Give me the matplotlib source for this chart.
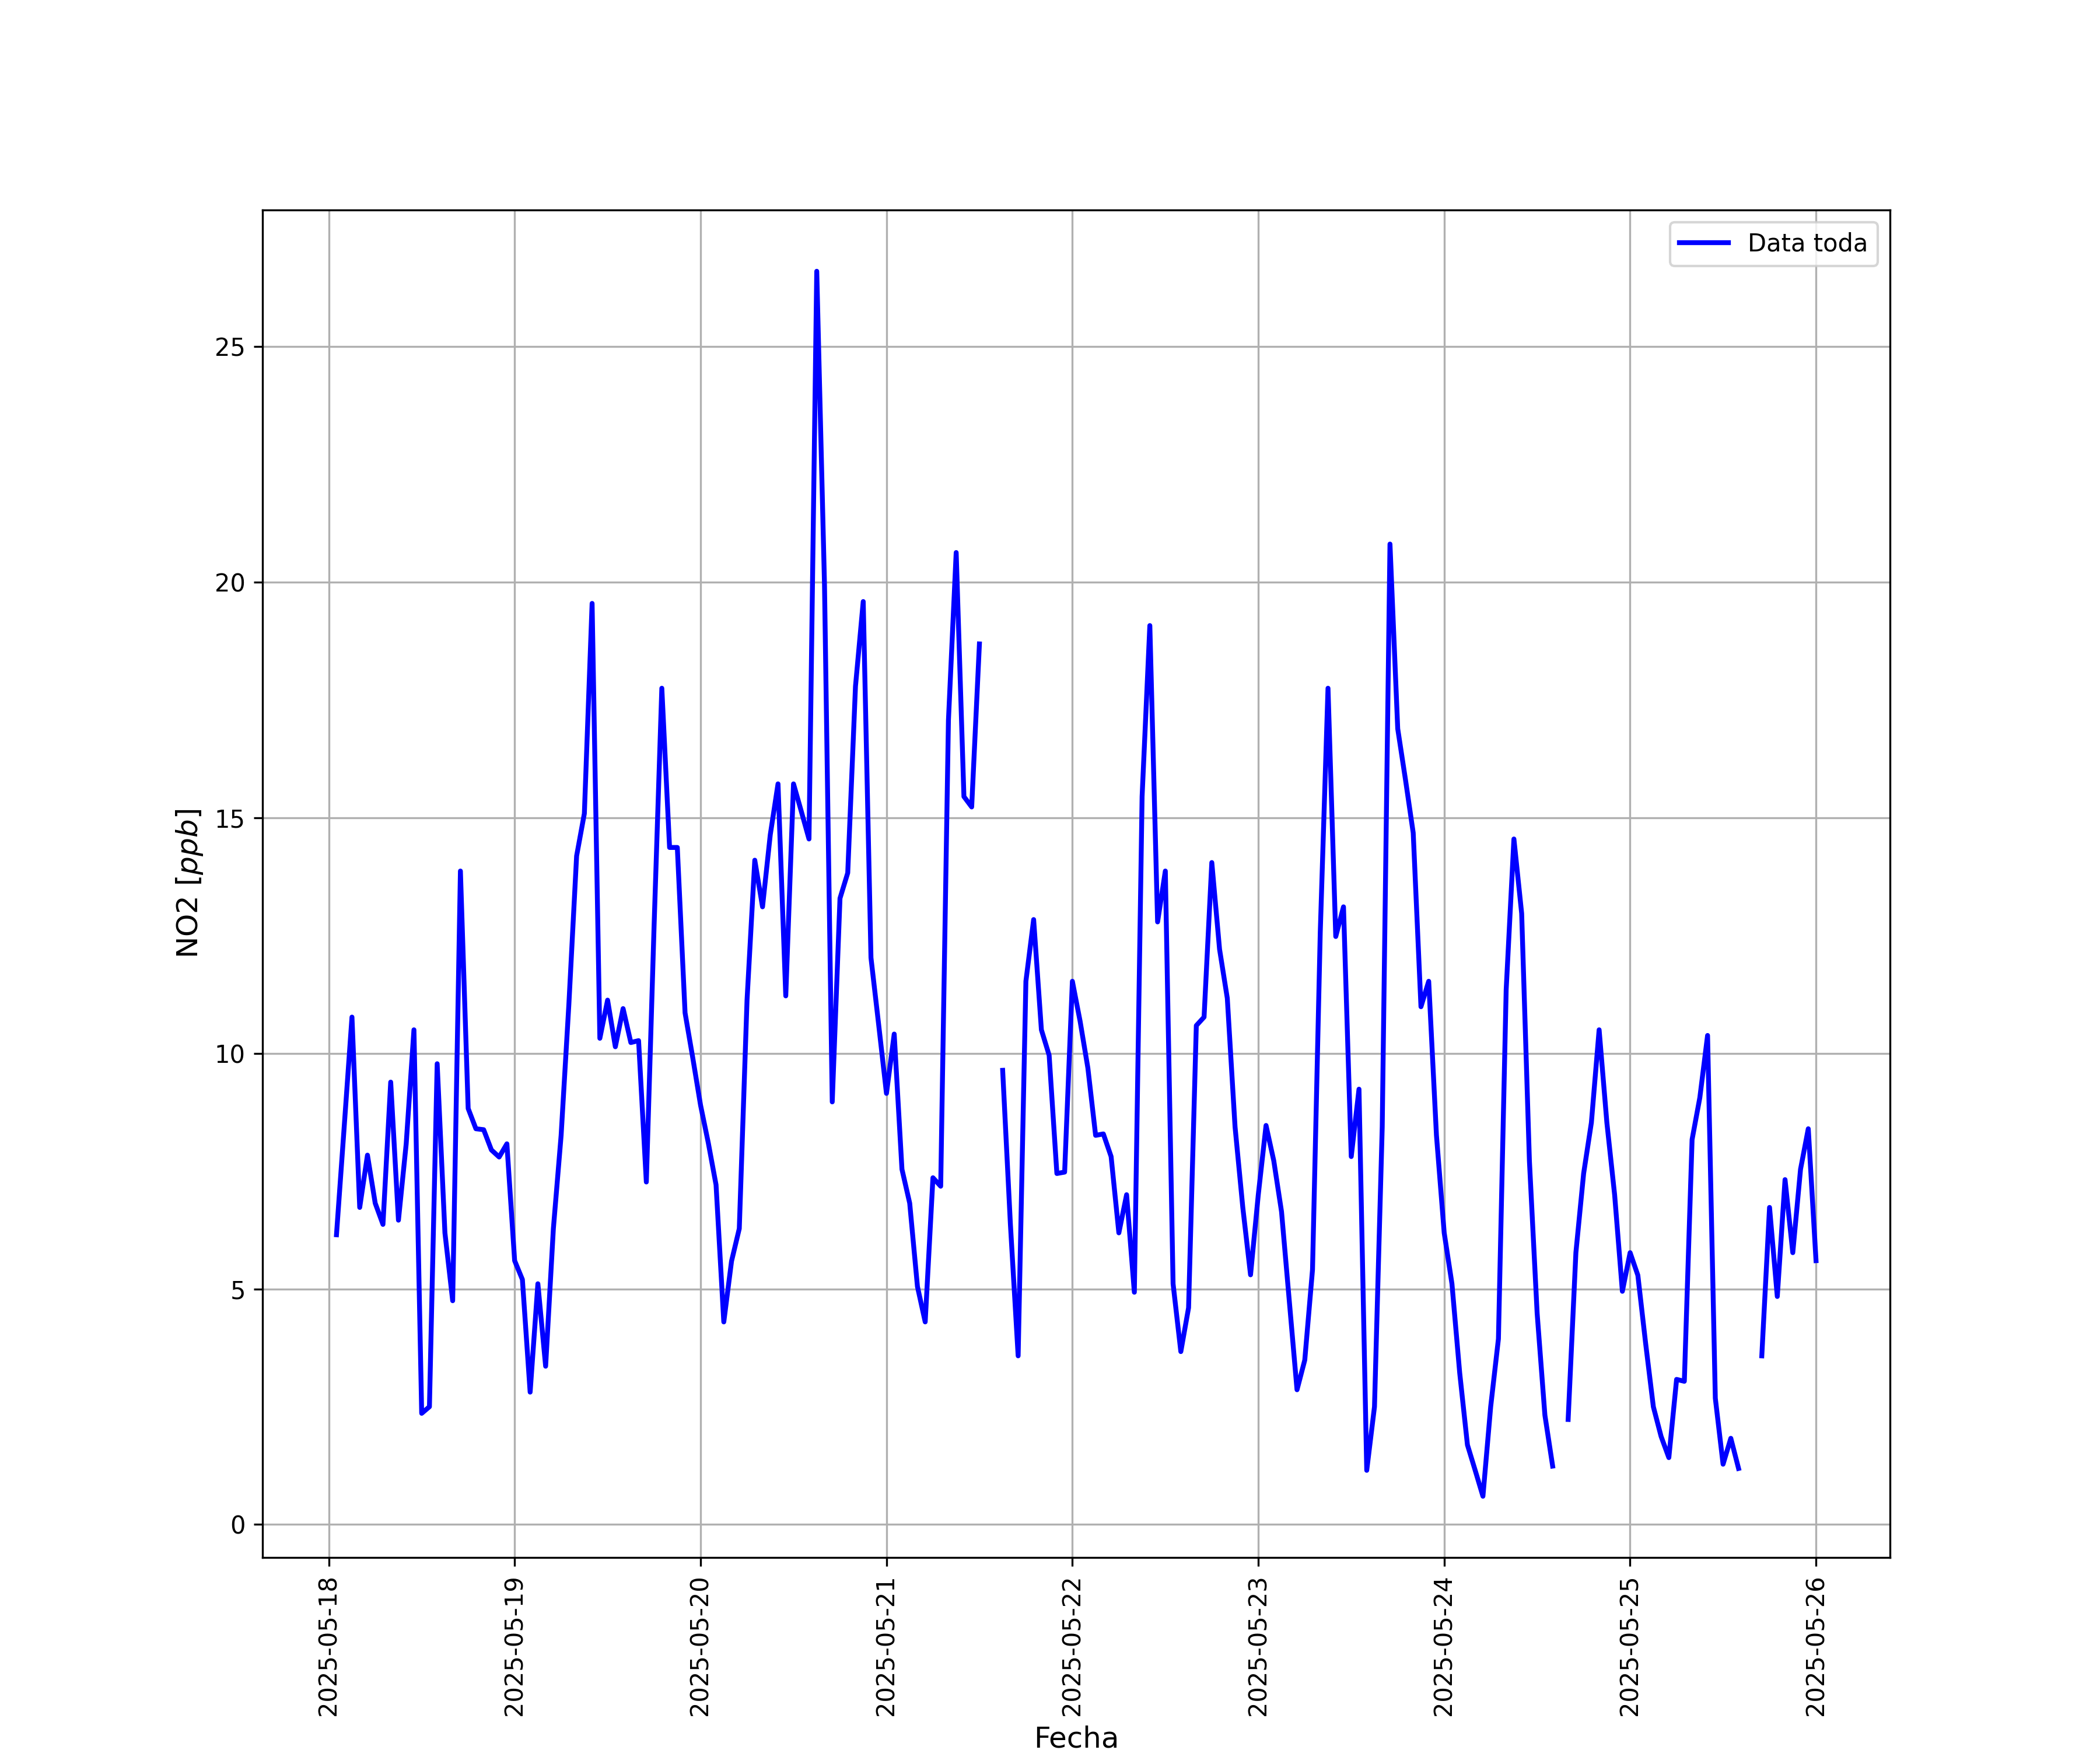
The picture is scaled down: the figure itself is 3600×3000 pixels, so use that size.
import numpy as np
import pandas as pd
import matplotlib

matplotlib.use("Agg")
import matplotlib.pyplot as plt
import matplotlib.dates as mdates

nan = np.nan

# Hourly NO2 readings, one list per day (first day starts at 01:00)
no2_0518 = [6.15, 8.45, 10.77, 6.73, 7.84, 6.82, 6.37, 9.39, 6.46, 8.08, 10.5, 2.36,
            2.5, 9.78, 6.19, 4.75, 13.87, 8.83, 8.4, 8.38, 7.95, 7.8, 8.08]
no2_0519 = [5.6, 5.2, 2.81, 5.11, 3.36, 6.28, 8.26, 11.04, 14.19, 15.09, 19.55, 10.32,
            11.13, 10.14, 10.95, 10.23, 10.27, 7.27, 12.7, 17.75, 14.37, 14.37, 10.86, 9.9]
no2_0520 = [8.9, 8.1, 7.21, 4.3, 5.59, 6.28, 11.13, 14.1, 13.11, 14.64, 15.72, 11.22,
            15.72, 15.14, 14.55, 26.6, 19.95, 8.97, 13.29, 13.83, 17.79, 19.59, 12.03, 10.6]
no2_0521 = [9.15, 10.41, 7.54, 6.82, 5.05, 4.3, 7.36, 7.18, 17.07, 20.63, 15.45, 15.23,
            18.69, nan, nan, 9.64, 6.37, 3.58, 11.53, 12.84, 10.5, 9.96, 7.45, 7.48]
no2_0522 = [11.53, 10.68, 9.69, 8.26, 8.29, 7.81, 6.19, 7.0, 4.93, 15.45, 19.08, 12.79,
            13.87, 5.11, 3.67, 4.6, 10.59, 10.77, 14.05, 12.21, 11.17, 8.44, 6.73, 5.3]
no2_0523 = [7.0, 8.47, 7.72, 6.64, 4.75, 2.86, 3.49, 5.41, 12.57, 17.75, 12.48, 13.11,
            7.81, 9.24, 1.15, 2.5, 8.44, 20.81, 16.89, 15.81, 14.68, 10.99, 11.53, 8.26]
no2_0524 = [6.19, 5.11, 3.22, 1.69, 1.15, 0.6, 2.5, 3.94, 11.35, 14.55, 12.97, 7.72,
            4.48, 2.32, 1.24, nan, 2.23, 5.77, 7.45, 8.53, 10.5, 8.53, 7.0, 4.95]
no2_0525 = [5.77, 5.29, 3.85, 2.5, 1.87, 1.42, 3.08, 3.04, 8.17, 9.06, 10.38, 2.68,
            1.28, 1.83, 1.19, nan, nan, 3.58, 6.73, 4.84, 7.32, 5.77, 7.54, 8.4]
no2_0526 = [5.6]

start_time = "2025-05-18 01:00"


def main():
    values = (no2_0518 + no2_0519 + no2_0520 + no2_0521 + no2_0522
              + no2_0523 + no2_0524 + no2_0525 + no2_0526)
    fechas = pd.date_range(start=start_time, periods=len(values), freq="h")
    serie = pd.Series(values, index=fechas)

    fig, ax = plt.subplots(figsize=(12, 10))

    ax.plot(serie.index, serie.values, color="blue", linewidth=2, label="Data toda")

    ax.xaxis.set_major_locator(mdates.DayLocator())
    ax.xaxis.set_major_formatter(mdates.DateFormatter("%Y-%m-%d"))
    plt.xticks(rotation=90)

    ax.set_xlabel("Fecha", fontsize=12)
    ax.set_ylabel("NO2 [$ppb$]", fontsize=12)
    ax.grid(True)
    ax.legend(loc="upper right")

    fig.savefig("out.png", dpi=300)


if __name__ == "__main__":
    main()
